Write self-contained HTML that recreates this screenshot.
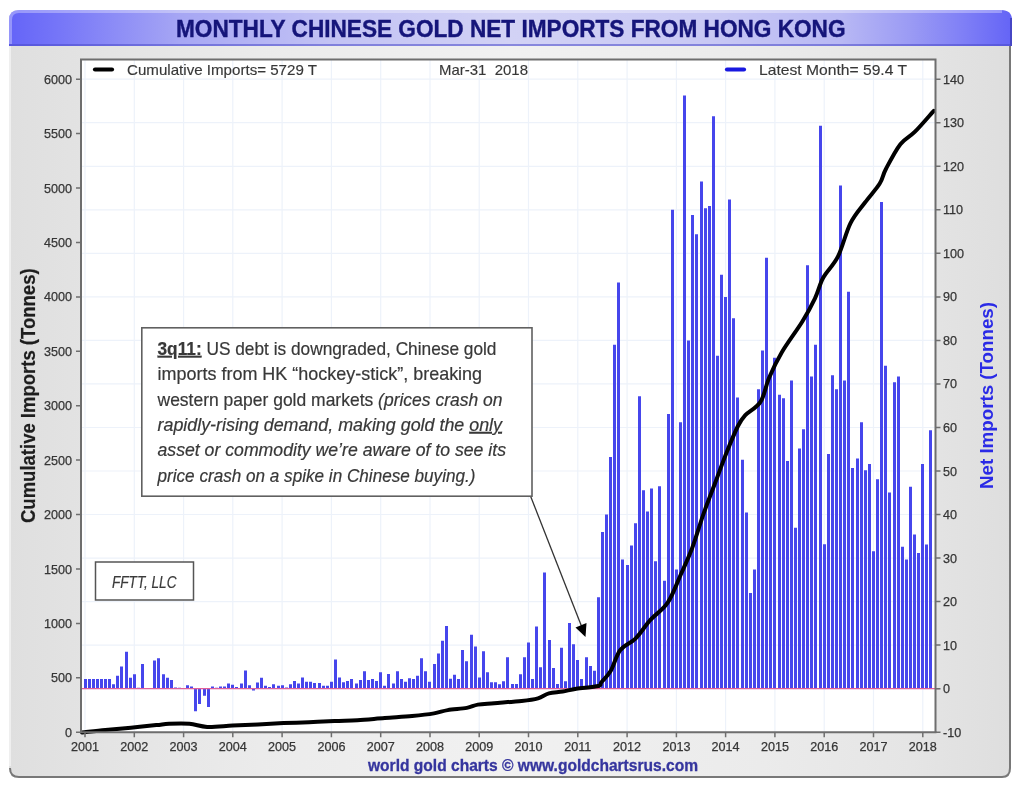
<!DOCTYPE html>
<html><head><meta charset="utf-8"><title>Monthly Chinese Gold Net Imports from Hong Kong</title>
<style>
html,body{margin:0;padding:0;background:#fff;}
body{width:1023px;height:792px;overflow:hidden;}
svg{display:block;font-family:"Liberation Sans",sans-serif;filter:blur(0.45px);}
</style></head><body>
<svg width="1023" height="792" viewBox="0 0 1023 792">
<defs>
<linearGradient id="hdr" x1="0" y1="0" x2="1" y2="0">
<stop offset="0" stop-color="#6464f8"/>
<stop offset="0.05" stop-color="#7676f8"/>
<stop offset="0.17" stop-color="#a6a6f4"/>
<stop offset="0.32" stop-color="#c2c2f4"/>
<stop offset="0.5" stop-color="#d2d2f5"/>
<stop offset="0.7" stop-color="#c8c8f4"/>
<stop offset="0.83" stop-color="#b8b8f4"/>
<stop offset="0.9" stop-color="#9a9af4"/>
<stop offset="0.95" stop-color="#8080f6"/>
<stop offset="1" stop-color="#6464f6"/>
</linearGradient>
<linearGradient id="pnl" x1="0" y1="0" x2="1" y2="0">
<stop offset="0" stop-color="#dfdfdf"/>
<stop offset="0.1" stop-color="#e4e4e4"/>
<stop offset="0.25" stop-color="#ebebeb"/>
<stop offset="0.5" stop-color="#f1f1f1"/>
<stop offset="0.75" stop-color="#ebebeb"/>
<stop offset="0.9" stop-color="#e5e5e5"/>
<stop offset="1" stop-color="#dedede"/>
</linearGradient>
</defs>

<path d="M9,20 Q9,10 19,10 L1001,10 Q1011,10 1011,20 L1011,768 Q1011,777 1002,777 L18,777 Q9,777 9,768 Z" fill="url(#pnl)"/>
<path d="M1010,46 L1010,768 Q1010,777 1002,777 L19,777 Q10,777 10,768" fill="none" stroke="#787878" stroke-width="2"/>
<path d="M10,46 V766" stroke="#f4f4f4" stroke-width="1.5"/>
<path d="M9,46 L9,20 Q9,10 19,10 L1001,10 Q1012,10 1012,20 L1012,46 Z" fill="url(#hdr)"/>
<path d="M10.5,44 V20 Q10.5,11.5 19,11.5 H1002" fill="none" stroke="#ffffff" stroke-width="3" opacity="0.32"/>
<path d="M1011,18 V46" stroke="#4646c4" stroke-width="2"/>
<rect x="9" y="44" width="1003" height="2" fill="#4a4ac8" opacity="0.55"/>
<text x="176" y="37" font-size="24" font-weight="bold" fill="#15157a" stroke="#15157a" stroke-width="0.4" textLength="669.5" lengthAdjust="spacingAndGlyphs">MONTHLY CHINESE GOLD NET IMPORTS FROM HONG KONG</text>
<rect x="81" y="59.5" width="854.5" height="672.7" fill="#ffffff"/>
<path d="M81,732.2H935.5 M81,688.7H935.5 M81,645.1H935.5 M81,601.6H935.5 M81,558.1H935.5 M81,514.5H935.5 M81,471.0H935.5 M81,427.5H935.5 M81,383.9H935.5 M81,340.4H935.5 M81,296.9H935.5 M81,253.3H935.5 M81,209.8H935.5 M81,166.3H935.5 M81,122.7H935.5 M81,79.2H935.5 M85.0,59.5V732.2 M134.3,59.5V732.2 M183.6,59.5V732.2 M232.8,59.5V732.2 M282.1,59.5V732.2 M331.4,59.5V732.2 M380.7,59.5V732.2 M430.0,59.5V732.2 M479.2,59.5V732.2 M528.5,59.5V732.2 M577.8,59.5V732.2 M627.1,59.5V732.2 M676.4,59.5V732.2 M725.6,59.5V732.2 M774.9,59.5V732.2 M824.2,59.5V732.2 M873.5,59.5V732.2 M922.8,59.5V732.2" stroke="#edf2fa" stroke-width="1.2" fill="none"/>
<path d="M84,679.12h3v9.58h-3ZM88,679.12h3v9.58h-3ZM92,679.12h3v9.58h-3ZM96,679.12h3v9.58h-3ZM100,679.12h3v9.58h-3ZM104,679.12h3v9.58h-3ZM108,679.12h3v9.58h-3ZM112,684.35h3v4.35h-3ZM116,675.64h3v13.06h-3ZM120,666.50h3v22.20h-3ZM125,651.70h3v37.00h-3ZM129,677.82h3v10.88h-3ZM133,674.34h3v14.36h-3ZM137,687.83h3v0.87h-3ZM141,663.89h3v24.81h-3ZM145,688.26h3v0.50h-3ZM149,688.26h3v0.50h-3ZM153,660.41h3v28.29h-3ZM157,658.23h3v30.47h-3ZM162,674.34h3v14.36h-3ZM166,677.82h3v10.88h-3ZM170,679.99h3v8.71h-3ZM174,687.39h3v1.31h-3ZM178,687.83h3v0.87h-3ZM182,688.26h3v0.50h-3ZM186,685.22h3v3.48h-3ZM190,686.52h3v2.18h-3ZM194,688.70h3v22.64h-3ZM198,688.70h3v15.24h-3ZM203,688.70h3v6.96h-3ZM207,688.70h3v18.28h-3ZM211,686.52h3v2.18h-3ZM215,687.83h3v0.87h-3ZM219,686.52h3v2.18h-3ZM223,686.52h3v2.18h-3ZM227,683.48h3v5.22h-3ZM231,684.78h3v3.92h-3ZM235,686.96h3v1.74h-3ZM240,683.48h3v5.22h-3ZM244,670.42h3v18.28h-3ZM248,685.22h3v3.48h-3ZM252,688.70h3v1.74h-3ZM256,682.61h3v6.09h-3ZM260,677.82h3v10.88h-3ZM264,685.65h3v3.05h-3ZM268,686.96h3v1.74h-3ZM272,684.35h3v4.35h-3ZM277,685.65h3v3.05h-3ZM281,685.22h3v3.48h-3ZM285,687.39h3v1.31h-3ZM289,684.35h3v4.35h-3ZM293,681.08h3v7.62h-3ZM297,683.48h3v5.22h-3ZM301,677.38h3v11.32h-3ZM305,681.74h3v6.96h-3ZM309,681.74h3v6.96h-3ZM313,683.04h3v5.66h-3ZM318,683.04h3v5.66h-3ZM322,685.65h3v3.05h-3ZM326,685.65h3v3.05h-3ZM330,681.74h3v6.96h-3ZM334,659.53h3v29.17h-3ZM338,677.38h3v11.32h-3ZM342,682.17h3v6.53h-3ZM346,681.08h3v7.62h-3ZM350,679.12h3v9.58h-3ZM355,683.48h3v5.22h-3ZM359,679.99h3v8.71h-3ZM363,671.29h3v17.41h-3ZM367,679.99h3v8.71h-3ZM371,679.12h3v9.58h-3ZM375,681.08h3v7.62h-3ZM379,672.16h3v16.54h-3ZM383,685.65h3v3.05h-3ZM387,673.90h3v14.80h-3ZM392,683.48h3v5.22h-3ZM396,671.29h3v17.41h-3ZM400,679.12h3v9.58h-3ZM404,681.74h3v6.96h-3ZM408,678.25h3v10.45h-3ZM412,679.12h3v9.58h-3ZM416,675.64h3v13.06h-3ZM420,658.23h3v30.47h-3ZM424,671.29h3v17.41h-3ZM428,681.74h3v6.96h-3ZM433,663.89h3v24.81h-3ZM437,653.44h3v35.26h-3ZM441,640.82h3v47.88h-3ZM445,626.02h3v62.68h-3ZM449,678.69h3v10.01h-3ZM453,674.77h3v13.93h-3ZM457,679.12h3v9.58h-3ZM461,649.96h3v38.74h-3ZM465,661.28h3v27.42h-3ZM470,634.72h3v53.98h-3ZM474,646.48h3v42.22h-3ZM478,677.38h3v11.32h-3ZM482,651.26h3v37.44h-3ZM486,672.16h3v16.54h-3ZM490,682.17h3v6.53h-3ZM494,682.17h3v6.53h-3ZM498,684.35h3v4.35h-3ZM502,681.30h3v7.40h-3ZM506,657.36h3v31.34h-3ZM511,683.91h3v4.79h-3ZM515,683.91h3v4.79h-3ZM519,674.34h3v14.36h-3ZM523,657.36h3v31.34h-3ZM527,642.56h3v46.14h-3ZM531,679.12h3v9.58h-3ZM535,626.45h3v62.25h-3ZM539,667.15h3v21.55h-3ZM543,572.47h3v116.23h-3ZM548,639.95h3v48.75h-3ZM552,668.02h3v20.68h-3ZM556,683.91h3v4.79h-3ZM560,647.78h3v40.92h-3ZM564,681.30h3v7.40h-3ZM568,622.97h3v65.73h-3ZM572,644.30h3v44.40h-3ZM576,659.97h3v28.73h-3ZM580,679.12h3v9.58h-3ZM585,657.36h3v31.34h-3ZM589,666.06h3v22.64h-3ZM593,670.85h3v17.85h-3ZM597,597.29h3v91.41h-3ZM601,531.99h3v156.71h-3ZM605,514.58h3v174.12h-3ZM609,457.12h3v231.58h-3ZM613,344.81h3v343.89h-3ZM617,282.57h3v406.13h-3ZM621,559.42h3v129.28h-3ZM626,565.07h3v123.63h-3ZM630,545.49h3v143.21h-3ZM634,523.29h3v165.41h-3ZM638,396.18h3v292.52h-3ZM642,490.20h3v198.50h-3ZM646,511.53h3v177.17h-3ZM650,488.46h3v200.24h-3ZM654,561.16h3v127.54h-3ZM658,486.29h3v202.41h-3ZM663,580.75h3v107.95h-3ZM667,414.03h3v274.67h-3ZM671,209.87h3v478.83h-3ZM675,569.43h3v119.27h-3ZM679,422.30h3v266.40h-3ZM683,95.39h3v593.31h-3ZM687,340.46h3v348.24h-3ZM691,215.09h3v473.61h-3ZM695,234.25h3v454.45h-3ZM700,181.58h3v507.12h-3ZM704,208.13h3v480.57h-3ZM708,205.95h3v482.75h-3ZM712,116.28h3v572.42h-3ZM716,355.70h3v333.00h-3ZM720,274.73h3v413.97h-3ZM724,296.93h3v391.77h-3ZM728,199.42h3v489.28h-3ZM732,318.26h3v370.44h-3ZM736,397.48h3v291.22h-3ZM741,459.73h3v228.97h-3ZM745,512.40h3v176.30h-3ZM749,592.93h3v95.77h-3ZM753,569.43h3v119.27h-3ZM757,389.21h3v299.49h-3ZM761,350.47h3v338.23h-3ZM765,257.75h3v430.95h-3ZM769,375.28h3v313.42h-3ZM773,357.87h3v330.83h-3ZM778,394.87h3v293.83h-3ZM782,398.35h3v290.35h-3ZM786,461.04h3v227.66h-3ZM790,380.51h3v308.19h-3ZM794,527.64h3v161.06h-3ZM798,448.41h3v240.29h-3ZM802,429.26h3v259.44h-3ZM806,265.15h3v423.55h-3ZM810,376.59h3v312.11h-3ZM814,344.81h3v343.89h-3ZM819,125.86h3v562.84h-3ZM823,544.18h3v144.52h-3ZM827,454.07h3v234.63h-3ZM831,375.28h3v313.42h-3ZM835,389.21h3v299.49h-3ZM839,185.49h3v503.21h-3ZM843,380.51h3v308.19h-3ZM847,291.71h3v396.99h-3ZM851,468.00h3v220.70h-3ZM856,458.43h3v230.27h-3ZM860,422.30h3v266.40h-3ZM864,470.18h3v218.52h-3ZM868,464.09h3v224.61h-3ZM872,551.15h3v137.55h-3ZM876,479.32h3v209.38h-3ZM880,202.03h3v486.67h-3ZM884,365.71h3v322.99h-3ZM888,492.38h3v196.32h-3ZM893,382.25h3v306.45h-3ZM897,376.59h3v312.11h-3ZM901,546.79h3v141.91h-3ZM905,559.42h3v129.28h-3ZM909,486.72h3v201.98h-3ZM913,534.60h3v154.10h-3ZM917,552.89h3v135.81h-3ZM921,464.09h3v224.61h-3ZM925,544.62h3v144.08h-3ZM929,430.13h3v258.57h-3Z" fill="#4646ec"/>
<line x1="81" y1="688.7" x2="939.5" y2="688.7" stroke="#e0609a" stroke-width="1.3"/>
<path d="M82.0,732.5 C85.9,732.1 97.2,730.8 105.4,730.0 C113.6,729.2 122.4,728.5 130.9,727.7 C139.4,726.9 150.0,725.8 156.3,725.1 C162.7,724.5 163.5,724.0 169.0,723.8 C174.5,723.6 183.0,723.3 189.4,723.8 C195.8,724.3 200.0,726.6 207.2,726.9 C214.4,727.2 224.2,726.0 232.7,725.6 C241.2,725.2 249.5,724.8 258.0,724.4 C266.5,724.0 275.1,723.5 283.6,723.1 C292.1,722.8 300.5,722.6 309.0,722.3 C317.5,721.9 326.4,721.4 334.5,721.0 C342.6,720.6 349.0,720.7 357.4,720.2 C365.8,719.7 375.6,718.7 384.7,718.0 C393.8,717.3 403.9,716.9 412.1,716.1 C420.3,715.3 428.1,714.4 434.0,713.4 C439.9,712.4 442.2,711.0 447.7,710.1 C453.2,709.2 461.8,708.8 466.8,707.9 C471.8,707.0 473.2,705.4 477.8,704.6 C482.4,703.8 486.9,703.8 494.2,703.2 C501.5,702.6 514.3,701.8 521.6,701.0 C528.9,700.2 533.5,699.6 538.0,698.3 C542.5,697.0 544.8,694.5 548.9,693.4 C553.0,692.3 558.0,692.3 562.6,691.5 C567.2,690.7 570.4,689.6 576.3,688.7 C582.2,687.8 594.0,687.1 598.2,686.0 C602.4,684.9 599.3,684.7 601.4,682.2 C603.5,679.7 607.6,676.2 610.8,670.8 C613.9,665.4 616.2,655.4 620.3,650.0 C624.4,644.6 630.5,643.6 635.5,638.6 C640.5,633.6 645.2,625.7 650.6,619.7 C656.0,613.7 662.7,610.3 667.7,602.7 C672.8,595.1 676.8,583.4 680.9,574.2 C685.0,565.0 688.5,557.8 692.3,547.7 C696.1,537.6 699.8,524.3 703.6,513.6 C707.4,502.9 711.2,493.4 715.0,483.3 C718.8,473.2 722.6,462.5 726.4,453.0 C730.2,443.5 734.6,432.8 737.7,426.5 C740.9,420.2 741.5,419.3 745.3,415.2 C749.1,411.1 756.5,408.2 760.5,401.9 C764.5,395.6 765.7,385.7 769.2,377.5 C772.7,369.3 776.2,361.9 781.7,352.5 C787.2,343.1 797.0,330.3 802.5,321.3 C808.0,312.3 811.5,305.6 815.0,298.3 C818.5,291.0 819.5,284.4 823.3,277.5 C827.1,270.6 833.4,265.7 837.9,256.7 C842.4,247.7 845.9,232.3 850.4,223.3 C854.9,214.3 860.1,209.1 865.0,202.5 C869.9,195.9 876.1,189.4 879.6,183.8 C883.1,178.2 882.3,175.8 885.8,169.2 C889.3,162.6 895.5,150.4 900.4,144.2 C905.3,137.9 909.4,137.3 915.0,131.7 C920.6,126.1 930.6,114.3 933.8,110.8" fill="none" stroke="#000" stroke-width="4.0" stroke-linejoin="round" stroke-linecap="round"/>
<path d="M81,732.2V59.5H935.5V732.2" fill="none" stroke="#6e6e6e" stroke-width="2"/>
<line x1="80" y1="732.2" x2="936.5" y2="732.2" stroke="#6e6e6e" stroke-width="2"/>
<path d="M76,732.2H81 M76,677.8H81 M76,623.4H81 M76,569.0H81 M76,514.5H81 M76,460.1H81 M76,405.7H81 M76,351.3H81 M76,296.9H81 M76,242.5H81 M76,188.0H81 M76,133.6H81 M76,79.2H81 M935.5,732.2H940.5 M935.5,688.7H940.5 M935.5,645.1H940.5 M935.5,601.6H940.5 M935.5,558.1H940.5 M935.5,514.5H940.5 M935.5,471.0H940.5 M935.5,427.5H940.5 M935.5,383.9H940.5 M935.5,340.4H940.5 M935.5,296.9H940.5 M935.5,253.3H940.5 M935.5,209.8H940.5 M935.5,166.3H940.5 M935.5,122.7H940.5 M935.5,79.2H940.5 M85.0,732.2V737.2 M134.3,732.2V737.2 M183.6,732.2V737.2 M232.8,732.2V737.2 M282.1,732.2V737.2 M331.4,732.2V737.2 M380.7,732.2V737.2 M430.0,732.2V737.2 M479.2,732.2V737.2 M528.5,732.2V737.2 M577.8,732.2V737.2 M627.1,732.2V737.2 M676.4,732.2V737.2 M725.6,732.2V737.2 M774.9,732.2V737.2 M824.2,732.2V737.2 M873.5,732.2V737.2 M922.8,732.2V737.2" stroke="#6e6e6e" stroke-width="1.5" fill="none"/>
<g font-size="12.6" fill="#363636" stroke="#363636" stroke-width="0.25"><text x="72" y="736.7" text-anchor="end">0</text><text x="72" y="682.3" text-anchor="end">500</text><text x="72" y="627.9" text-anchor="end">1000</text><text x="72" y="573.5" text-anchor="end">1500</text><text x="72" y="519.0" text-anchor="end">2000</text><text x="72" y="464.6" text-anchor="end">2500</text><text x="72" y="410.2" text-anchor="end">3000</text><text x="72" y="355.8" text-anchor="end">3500</text><text x="72" y="301.4" text-anchor="end">4000</text><text x="72" y="247.0" text-anchor="end">4500</text><text x="72" y="192.5" text-anchor="end">5000</text><text x="72" y="138.1" text-anchor="end">5500</text><text x="72" y="83.7" text-anchor="end">6000</text><text x="943" y="736.7">-10</text><text x="943" y="693.2">0</text><text x="943" y="649.6">10</text><text x="943" y="606.1">20</text><text x="943" y="562.6">30</text><text x="943" y="519.0">40</text><text x="943" y="475.5">50</text><text x="943" y="432.0">60</text><text x="943" y="388.4">70</text><text x="943" y="344.9">80</text><text x="943" y="301.4">90</text><text x="943" y="257.8">100</text><text x="943" y="214.3">110</text><text x="943" y="170.8">120</text><text x="943" y="127.2">130</text><text x="943" y="83.7">140</text><text x="85.0" y="751" text-anchor="middle">2001</text><text x="134.3" y="751" text-anchor="middle">2002</text><text x="183.6" y="751" text-anchor="middle">2003</text><text x="232.8" y="751" text-anchor="middle">2004</text><text x="282.1" y="751" text-anchor="middle">2005</text><text x="331.4" y="751" text-anchor="middle">2006</text><text x="380.7" y="751" text-anchor="middle">2007</text><text x="430.0" y="751" text-anchor="middle">2008</text><text x="479.2" y="751" text-anchor="middle">2009</text><text x="528.5" y="751" text-anchor="middle">2010</text><text x="577.8" y="751" text-anchor="middle">2011</text><text x="627.1" y="751" text-anchor="middle">2012</text><text x="676.4" y="751" text-anchor="middle">2013</text><text x="725.6" y="751" text-anchor="middle">2014</text><text x="774.9" y="751" text-anchor="middle">2015</text><text x="824.2" y="751" text-anchor="middle">2016</text><text x="873.5" y="751" text-anchor="middle">2017</text><text x="922.8" y="751" text-anchor="middle">2018</text></g>
<line x1="95" y1="69.5" x2="112" y2="69.5" stroke="#000" stroke-width="4.2" stroke-linecap="round"/>
<g font-size="15" fill="#383838" stroke="#383838" stroke-width="0.15">
<text x="127" y="75" textLength="190" lengthAdjust="spacingAndGlyphs">Cumulative Imports= 5729 T</text>
<text x="439" y="75" textLength="89" lengthAdjust="spacingAndGlyphs" style="white-space:pre">Mar-31  2018</text>
<text x="759" y="75" textLength="148" lengthAdjust="spacingAndGlyphs">Latest Month= 59.4 T</text>
</g>
<line x1="727" y1="69.5" x2="744" y2="69.5" stroke="#1818e0" stroke-width="4.2" stroke-linecap="round"/>
<text transform="translate(34.5,523) rotate(-90)" font-size="19.5" font-weight="bold" fill="#1e1e1e" stroke="#1e1e1e" stroke-width="0.2" textLength="254.6" lengthAdjust="spacingAndGlyphs">Cumulative Imports (Tonnes)</text>
<text transform="translate(992.5,489) rotate(-90)" font-size="19" font-weight="bold" fill="#2a2ae6" textLength="187" lengthAdjust="spacingAndGlyphs">Net Imports (Tonnes)</text>
<text x="368" y="771" font-size="16.2" font-weight="bold" fill="#35359e" stroke="#35359e" stroke-width="0.3" textLength="330" lengthAdjust="spacingAndGlyphs">world gold charts © www.goldchartsrus.com</text>
<rect x="95.5" y="562" width="98" height="38" fill="#fff" stroke="#555" stroke-width="1.5"/>
<text x="112" y="587.5" font-size="16.5" font-style="italic" fill="#3a3a3a" stroke="#3a3a3a" stroke-width="0.2" textLength="64.5" lengthAdjust="spacingAndGlyphs">FFTT, LLC</text>
<line x1="530.5" y1="496" x2="583" y2="630" stroke="#333" stroke-width="1.3"/>
<path d="M575.5,627.5 L586.5,623 L585.5,637 Z" fill="#000"/>
<rect x="141.8" y="327.8" width="390.2" height="168.4" fill="#fff" stroke="#606060" stroke-width="1.6"/>
<g font-size="18.2" fill="#383838" stroke="#383838" stroke-width="0.2">
<text x="157.5" y="354.8" textLength="339" lengthAdjust="spacingAndGlyphs"><tspan font-weight="bold" text-decoration="underline">3q11:</tspan> US debt is downgraded, Chinese gold</text>
<text x="157.5" y="380.2" textLength="324.6" lengthAdjust="spacingAndGlyphs">imports from HK “hockey-stick”, breaking</text>
<text x="157.5" y="405.5" textLength="345" lengthAdjust="spacingAndGlyphs">western paper gold markets <tspan font-style="italic">(prices crash on</tspan></text>
<text x="157.5" y="430.9" textLength="344.5" lengthAdjust="spacingAndGlyphs"><tspan font-style="italic">rapidly-rising demand, making gold the <tspan text-decoration="underline">only</tspan></tspan></text>
<text x="157.5" y="456.2" textLength="348.5" lengthAdjust="spacingAndGlyphs"><tspan font-style="italic">asset or commodity we’re aware of to see its</tspan></text>
<text x="157.5" y="481.6" textLength="318" lengthAdjust="spacingAndGlyphs"><tspan font-style="italic">price crash on a spike in Chinese buying.)</tspan></text>
</g>
</svg></body></html>
